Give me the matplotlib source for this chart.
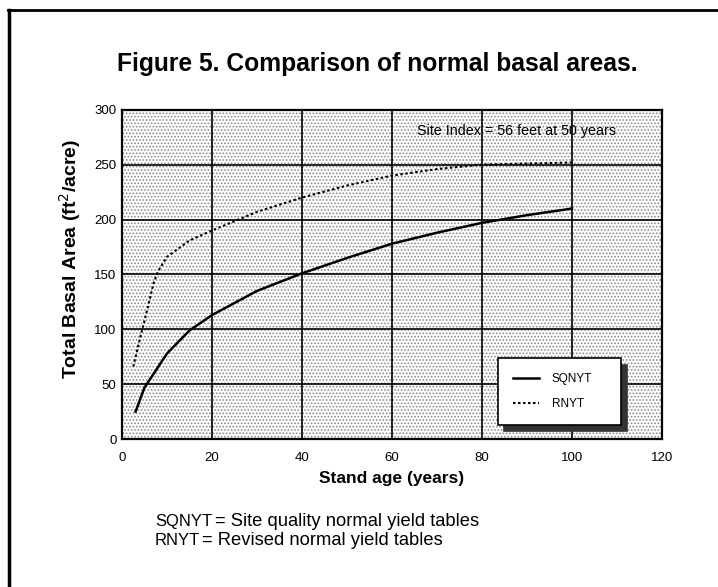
import matplotlib
matplotlib.use("Agg")
import matplotlib.pyplot as plt
from matplotlib.lines import Line2D
from matplotlib.patches import Rectangle

plt.rcParams['font.family'] = ['Liberation Sans', 'DejaVu Sans']
plt.rcParams['hatch.linewidth'] = 0.8

# ---- data ----
ages_sqnyt = [3, 5, 10, 15, 20, 30, 40, 50, 60, 70, 80, 90, 100]
ba_sqnyt = [25, 47, 78, 99, 113, 135, 151, 165, 178, 188, 197, 204, 210]

ages_rnyt = [2.5, 4, 5, 7, 8, 10, 15, 20, 30, 40, 50, 60, 70, 80, 90, 100]
ba_rnyt = [66, 92, 108, 142, 153, 166, 181, 190, 207, 220, 231, 240, 246, 250, 251, 252]

x_ticks = [0, 20, 40, 60, 80, 100, 120]
y_ticks = [0, 50, 100, 150, 200, 250, 300]

title = "Figure 5. Comparison of normal basal areas."
xlabel = "Stand age (years)"
ylabel = "Total Basal Area (ft$^2$/acre)"
note = "Site Index = 56 feet at 50 years"
foot1 = ("SQNYT", "= Site quality normal yield tables")
foot2 = ("RNYT", "= Revised normal yield tables")

fig = plt.figure(figsize=(7.18, 5.87), dpi=100)
ax = fig.add_axes([0.170, 0.252, 0.752, 0.561])

# stippled background
ax.set_facecolor('white')
ax.add_patch(Rectangle((0, 0), 1, 1, transform=ax.transAxes, facecolor='white',
                       edgecolor='#8a8a8a', hatch='.....', lw=0, zorder=0))

ax.plot(ages_sqnyt, ba_sqnyt, color='black', lw=1.8, label='SQNYT', zorder=3)
ax.plot(ages_rnyt, ba_rnyt, color='black', lw=1.5, ls=(0, (1.2, 1.2)),
        label='RNYT', zorder=3)

ax.set_xlim(0, 120)
ax.set_ylim(0, 300)
ax.set_xticks(x_ticks)
ax.set_yticks(y_ticks)
ax.tick_params(length=0, labelsize=9.5)
ax.tick_params(axis='x', pad=9)
ax.tick_params(axis='y', pad=4)
ax.grid(True, color='black', lw=1.2, zorder=1)
ax.set_axisbelow(False)
for s in ax.spines.values():
    s.set_linewidth(1.6)
    s.set_zorder(4)

ax.set_xlabel(xlabel, fontsize=12.5, fontweight='bold', labelpad=5)
ax.set_ylabel(ylabel, fontsize=14, fontweight='bold')
ax.yaxis.set_label_coords(-0.072, 0.547)

ax.text(0.546, 0.936, note, transform=ax.transAxes, fontsize=10.3,
        ha='left', va='center', zorder=5)

leg = ax.legend(loc='lower left', bbox_to_anchor=(0.696, 0.043, 0.228, 0.185),
                mode='expand', borderaxespad=0, fontsize=8.5,
                frameon=True, fancybox=False, edgecolor='black',
                framealpha=1, borderpad=1.25, labelspacing=1.1,
                handlelength=2.2, handletextpad=1.1,
                shadow={'ox': 4.5, 'oy': -4.5, 'color': '#333333', 'alpha': 1})
leg.get_frame().set_linewidth(1.2)
leg.set_zorder(6)

fig.text(0.525, 0.891, title, fontsize=17.7, fontweight='bold',
         ha='center', va='center')

fig.text(0.216, 0.111, foot1[0], fontsize=12, ha='left', va='center')
fig.text(0.2995, 0.111, foot1[1], fontsize=13.2, ha='left', va='center')
fig.text(0.216, 0.079, foot2[0], fontsize=12, ha='left', va='center')
fig.text(0.281, 0.079, foot2[1], fontsize=13.2, ha='left', va='center')

# page frame (left and top rules)
fig.add_artist(Line2D([0.012, 0.012], [0.0, 0.983], color='black', lw=2.5,
                      transform=fig.transFigure))
fig.add_artist(Line2D([0.011, 1.0], [0.983, 0.983], color='black', lw=2.0,
                      transform=fig.transFigure))

fig.savefig("out.png", dpi=100)
